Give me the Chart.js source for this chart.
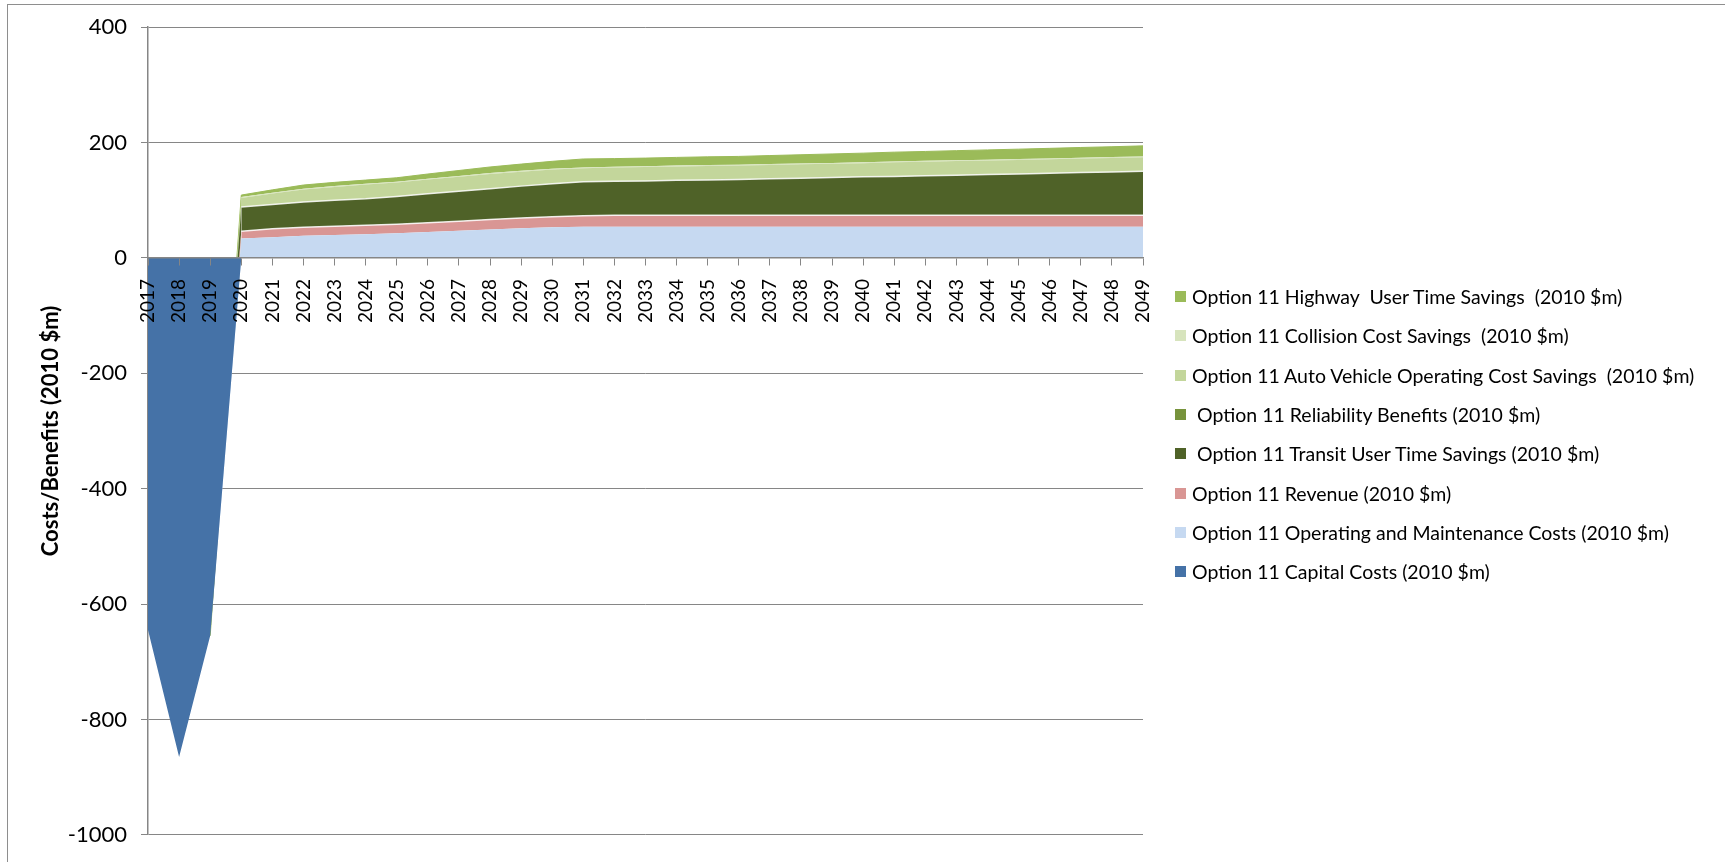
<!DOCTYPE html>
<html>
<head>
<meta charset="utf-8">
<script src="https://cdn.jsdelivr.net/npm/chart.js@4.4.0/dist/chart.umd.min.js"></script>
<style>
  body { margin: 0; background: #fff; }
  #wrap { position: relative; width: 1725px; height: 862px; overflow: hidden; }
  #frame { position: absolute; left: 7px; top: 4px; width: 1800px; height: 900px; border: 1px solid #8e8e8e; pointer-events: none; }
  #legend { position: absolute; left: 1175px; top: 277px; font-family: Lato, sans-serif; font-size: 19.5px; color: #000; }
  #legend .item { height: 39.3px; display: flex; align-items: center; white-space: pre; }
  #legend .box { width: 11px; height: 11px; margin-right: 6px; flex: none; }
</style>
</head>
<body>
<div id="wrap">
  <canvas id="chart" width="1725" height="862"></canvas>
  <div id="frame"></div>
  <div id="legend"></div>
</div>
<script>
(() => {
  'use strict'

  const years = ['2017', '2018', '2019', '2020', '2021', '2022', '2023', '2024', '2025', '2026', '2027',
    '2028', '2029', '2030', '2031', '2032', '2033', '2034', '2035', '2036', '2037', '2038',
    '2039', '2040', '2041', '2042', '2043', '2044', '2045', '2046', '2047', '2048', '2049']

  const capitalCosts = [-645, -865, -655, 0, 0, 0, 0, 0, 0, 0, 0,
    0, 0, 0, 0, 0, 0, 0, 0, 0, 0, 0,
    0, 0, 0, 0, 0, 0, 0, 0, 0, 0, 0]
  const operatingCosts = [0, 0, 0, 33.6, 36, 38.3, 39.8, 41.2, 42.9, 45, 47.2,
    49.3, 51.3, 53.3, 53.9, 54.2, 54.2, 54.2, 54.2, 54.2, 54.2, 54.2,
    54.2, 54.2, 54.2, 54.2, 54.2, 54.2, 54.2, 54.2, 54.2, 54.2, 54.2]
  const revenue = [0, 0, 0, 12.8, 14.4, 15, 15.3, 15.6, 15.7, 15.9, 16.6,
    17.4, 17.9, 18, 19.1, 19.8, 19.8, 19.8, 19.8, 19.8, 19.8, 19.8,
    19.8, 19.8, 19.8, 19.8, 19.8, 19.8, 19.8, 19.8, 19.8, 19.8, 19.8]
  const transitSavings = [0, 0, 0, 41.7, 42.4, 43.5, 44.7, 45.8, 48.1, 50.4, 51.7,
    53.3, 55.3, 57.4, 59.2, 58.8, 59.5, 60.5, 61.3, 62, 63.2, 64.3,
    65.5, 66.6, 67.2, 68.3, 69.5, 70.6, 71.7, 72.8, 74, 75.1, 76.3]
  const reliability = [0, 0, 0, 0, 0, 0, 0, 0, 0, 0, 0,
    0, 0, 0, 0, 0, 0, 0, 0, 0, 0, 0,
    0, 0, 0, 0, 0, 0, 0, 0, 0, 0, 0]
  const autoSavings = [0, 0, 0, 15.9, 18.7, 21.7, 23.3, 24.6, 24, 24.6, 25.1,
    25.7, 25.1, 24.6, 23.3, 23.9, 24, 24.1, 24.2, 24.2, 24.1, 24,
    23.8, 23.6, 24.7, 24.5, 24.4, 24.3, 24.2, 24.2, 24.2, 24.2, 24.2]
  const collisionSavings = [0, 0, 0, 1.5, 1.5, 1.5, 1.5, 1.5, 1.5, 1.5, 1.5,
    1.5, 1.5, 1.5, 1.5, 1.5, 1.5, 1.5, 1.5, 1.5, 1.5, 1.5,
    1.5, 1.5, 1.5, 1.5, 1.5, 1.5, 1.5, 1.5, 1.5, 1.5, 1.5]
  const highwaySavings = [0, 0, 0, 3.5, 5, 6.4, 6.4, 6.3, 6.8, 8.1, 9.5,
    10.5, 11.6, 12.7, 14.6, 14, 14.1, 14.2, 14.3, 14.3, 14.7, 15.1,
    15.5, 16, 16, 16.3, 16.6, 16.9, 17.2, 17.5, 17.8, 18, 18.3]

  const yTicks = [-1000, -800, -600, -400, -200, 0, 200, 400]

  const sep = 'rgba(255,255,255,0.85)'
  // no separator lines while the stack sits on the capital cost outline
  const area = (label, data, color, fill, line) => ({
    label,
    data,
    backgroundColor: color,
    borderColor: line || 'transparent',
    borderWidth: line ? 1.5 : 0,
    segment: line ? { borderColor: c => c.p0DataIndex < 3 ? 'transparent' : line } : undefined,
    pointRadius: 0,
    pointHoverRadius: 0,
    tension: 0,
    fill
  })

  const datasets = [
    area('Option 11 Capital Costs (2010 $m)', capitalCosts, '#4572A7', 'origin'),
    area('Option 11 Operating and Maintenance Costs (2010 $m)', operatingCosts, '#C6D9F1', '-1'),
    area('Option 11 Revenue (2010 $m)', revenue, '#D99694', '-1', sep),
    area(' Option 11 Transit User Time Savings (2010 $m)', transitSavings, '#4F6228', '-1', sep),
    area(' Option 11 Reliability Benefits (2010 $m)', reliability, '#77933C', '-1'),
    area('Option 11 Auto Vehicle Operating Cost Savings  (2010 $m)', autoSavings, '#C3D69B', '-1'),
    area('Option 11 Collision Cost Savings  (2010 $m)', collisionSavings, '#D7E4BD', '-1'),
    area('Option 11 Highway  User Time Savings  (2010 $m)', highwaySavings, '#9BBB59', '-1')
  ]
  datasets[7].borderColor = '#9BBB59'
  datasets[7].borderWidth = 1
  datasets[7].segment = { borderColor: c => c.p0DataIndex < 2 ? 'transparent' : '#9BBB59' }

  const axisGray = '#868686'

  const draw = () => {
    // eslint-disable-next-line no-unused-vars
    const chart = new Chart(document.getElementById('chart'), {
      type: 'line',
      data: { labels: years, datasets },
      options: {
        responsive: false,
        animation: false,
        events: [],
        layout: { padding: { left: 34, right: 582, top: 27, bottom: 23 } },
        plugins: { legend: { display: false }, tooltip: { enabled: false } },
        scales: {
          x: {
            position: { y: 0 },
            grid: { drawOnChartArea: false, drawTicks: true, tickLength: 7, color: axisGray, z: 1 },
            border: { display: true, color: axisGray, width: 1.5, z: 1 },
            ticks: {
              autoSkip: false, minRotation: 90, maxRotation: 90, padding: 14, z: 1,
              color: '#000', font: { family: 'Lato', size: 19 }
            },
            afterFit: s => { s.height = 0 }
          },
          y: {
            stacked: 'single',
            min: yTicks[0],
            max: yTicks[yTicks.length - 1],
            afterBuildTicks: s => { s.ticks = yTicks.map(v => ({ value: v })) },
            grid: { color: axisGray, tickLength: 7 },
            border: { color: axisGray, width: 1.5 },
            ticks: { padding: 14, color: '#000', font: { family: 'Lato', size: 22 }, callback: v => String(v) },
            title: {
              display: true, text: 'Costs/Benefits (2010 $m)', color: '#000',
              font: { family: 'Lato', size: 22, weight: 'bold' }, padding: { top: 4, bottom: 0 }
            },
            afterFit: s => { s.width = 148 - 34 }
          }
        }
      }
    })

    const legend = document.getElementById('legend')
    datasets.slice().reverse().forEach(ds => {
      const row = document.createElement('div')
      row.className = 'item'
      const box = document.createElement('span')
      box.className = 'box'
      box.style.background = ds.backgroundColor
      row.appendChild(box)
      row.appendChild(document.createTextNode(ds.label))
      legend.appendChild(row)
    })
  }

  Promise.all([document.fonts.load('19px Lato'), document.fonts.load('bold 22px Lato')])
    .then(draw, draw)
})()
</script>
</body>
</html>
